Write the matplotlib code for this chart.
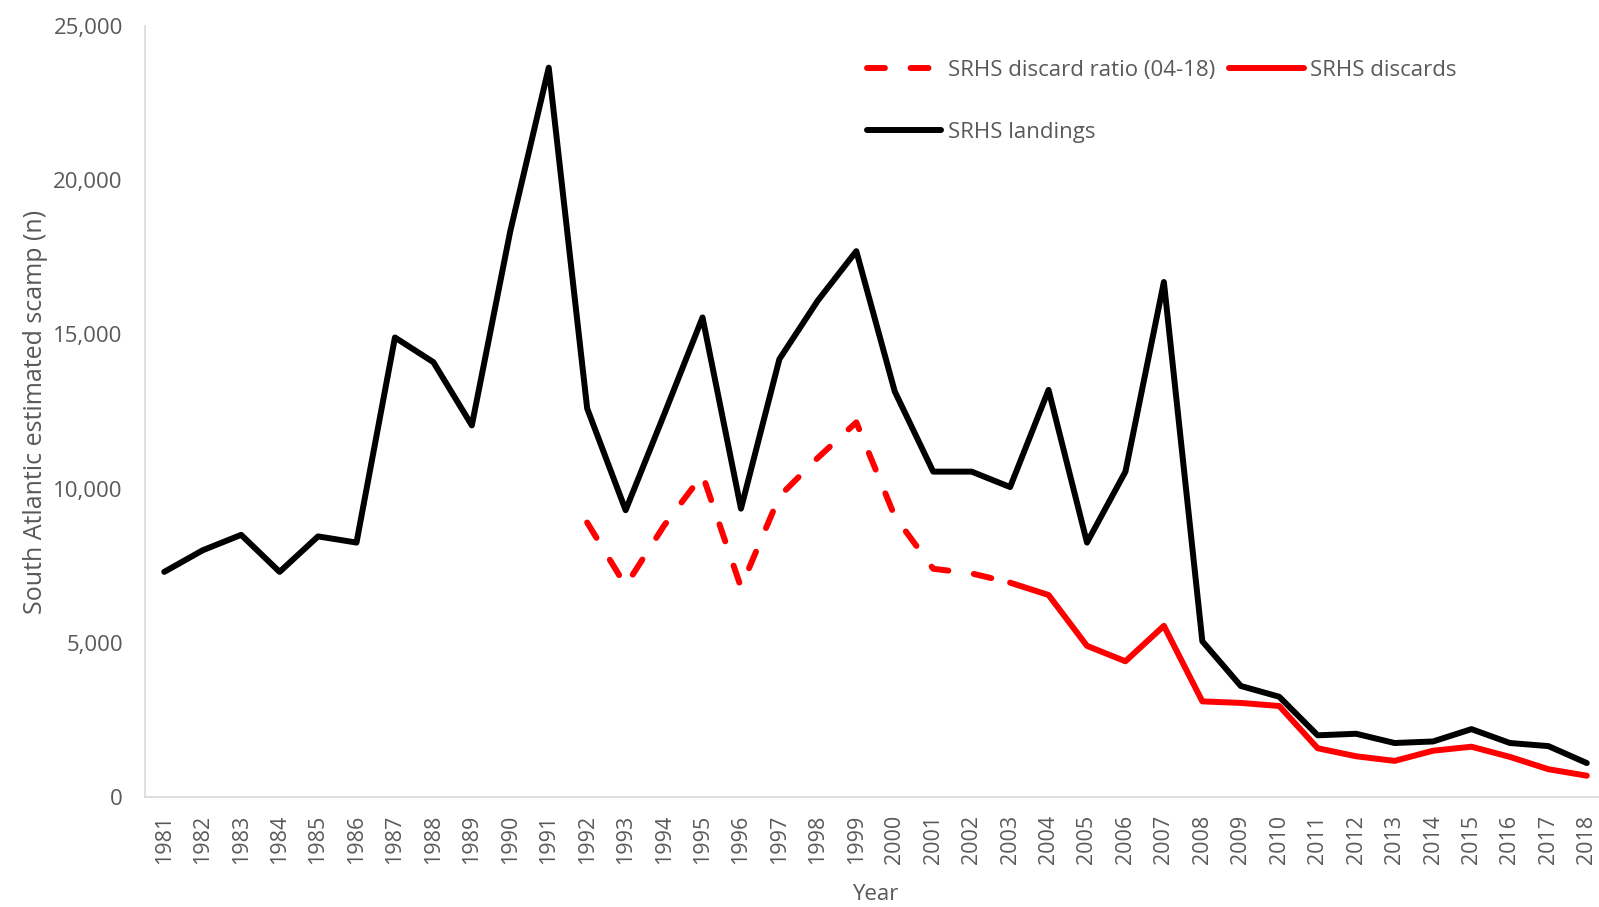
import numpy as np
import matplotlib
matplotlib.use("Agg")
import matplotlib.pyplot as plt
from matplotlib.ticker import FuncFormatter

plt.rcParams['font.family'] = ['Open Sans', 'DejaVu Sans']

# data
years = list(range(1981, 2019))
landings = [7300, 8000, 8500, 7300, 8450, 8250, 14900, 14100, 12050, 18350,
            23650, 12600, 9300, 12400, 15550, 9350, 14200, 16100, 17700, 13150,
            10550, 10550, 10050, 13200, 8250, 10550, 16700, 5050, 3600, 3250,
            2000, 2050, 1750, 1800, 2200, 1750, 1650, 1100]

ratio_years = list(range(1992, 2004))
ratio_discards = [8900, 6850, 8800, 10450, 6800, 9750, 11000, 12150, 9100,
                  7400, 7250, 6950]

disc_years = list(range(2003, 2019))
discards = [6950, 6550, 4900, 4400, 5550, 3100, 3050, 2950, 1580, 1320,
            1170, 1500, 1630, 1300, 900, 690]

grey = '#595959'

fig = plt.figure(figsize=(15.99, 9.07), dpi=100)
ax = fig.add_axes([0.0907, 0.1213, 0.9137, 0.85])

xpos = {y: i for i, y in enumerate(years)}

l_ratio, = ax.plot([xpos[y] for y in ratio_years], ratio_discards, color='#ff0000',
                   lw=4.3, dashes=(3.0, 4.3), dash_capstyle='round',
                   label='SRHS discard ratio (04-18)')
l_land, = ax.plot([xpos[y] for y in years], landings, color='black', lw=4.3,
                  solid_joinstyle='round', solid_capstyle='round',
                  label='SRHS landings')
l_disc, = ax.plot([xpos[y] for y in disc_years], discards, color='#ff0000', lw=4.3,
                  solid_joinstyle='round', solid_capstyle='round',
                  label='SRHS discards')

ax.set_xlim(-0.5, len(years) - 0.5)
ax.set_ylim(0, 25000)
ax.set_xticks(range(len(years)))
ax.set_xticklabels([str(y) for y in years], rotation=90)
ax.set_yticks(np.arange(0, 25001, 5000))
ax.yaxis.set_major_formatter(FuncFormatter(lambda v, p: f"{int(v):,}"))

ax.tick_params(axis='y', length=0, pad=16, labelsize=16, labelcolor=grey)
ax.tick_params(axis='x', length=0, pad=13, labelsize=15.5, labelcolor=grey)

for s in ['top', 'right']:
    ax.spines[s].set_visible(False)
for s in ['left', 'bottom']:
    ax.spines[s].set_color('#d9d9d9')
    ax.spines[s].set_linewidth(1.2)

ax.set_ylabel('South Atlantic estimated scamp (n)', fontsize=18, color=grey, labelpad=4)
ax.set_xlabel('Year', fontsize=16, color=grey, labelpad=14)

leg = fig.legend(handles=[l_ratio, l_land, l_disc], ncol=2, frameon=False,
                 loc='upper left', bbox_to_anchor=(0.535, 0.946), fontsize=16,
                 handlelength=3.35, handletextpad=0.3, columnspacing=0.65,
                 labelspacing=1.85, borderpad=0)
for t in leg.get_texts():
    t.set_color(grey)

fig.savefig('out.png', dpi=100)
